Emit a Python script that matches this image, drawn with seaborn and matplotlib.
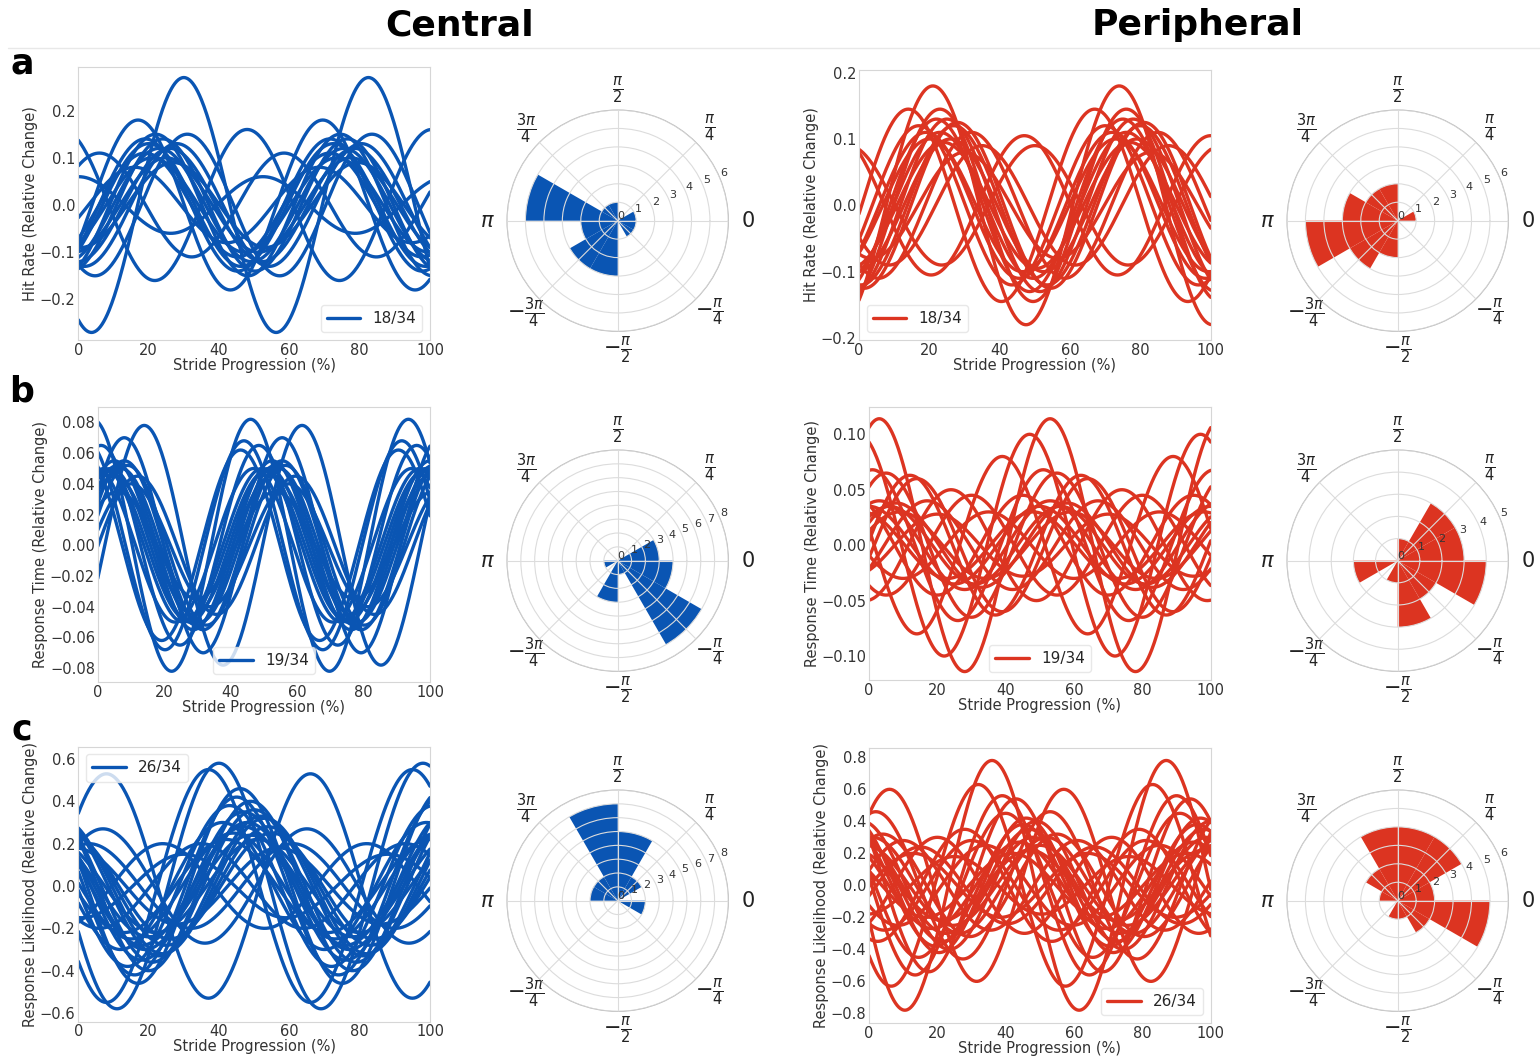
import numpy as np
import pandas as pd
import matplotlib
matplotlib.use("Agg")
import matplotlib.pyplot as plt
from matplotlib.lines import Line2D
import seaborn as sns

# ---------------------------------------------------------------- data
# Each fitted curve: y = amp * cos(2*pi*(x - peak) / period), x in % of stride
HIT_C_AMP = [0.27, 0.18, 0.16, 0.11, 0.15, 0.14, 0.13, 0.12, 0.12, 0.11, 0.10, 0.10, 0.09, 0.15, 0.13, 0.08, 0.06, 0.14]
HIT_C_PEAK = [30, 17, 48, 6, 22, 24, 20, 23, 26, 19, 21, 25, 27, 31, 28, 16, 0, 19]
HIT_C_PERIOD = 52.5

HIT_P_AMP = [0.18, 0.145, 0.145, 0.13, 0.125, 0.12, 0.11, 0.11, 0.10, 0.105, 0.09, 0.09, 0.10, 0.12, 0.08, 0.11, 0.13, 0.095]
HIT_P_PEAK = [21, 14, 23, 25, 28, 27, 19, 23, 20, 47, 35, 50, 26, 17, 30, 32, 22, 24]
HIT_P_PERIOD = 53.0

RT_C_AMP = [0.082, 0.078, 0.070, 0.068, 0.062, 0.065, 0.055, 0.052, 0.050, 0.050, 0.048, 0.052, 0.045, 0.050, 0.055, 0.040, 0.045, 0.035, 0.050]
RT_C_PEAK = [46, 14, 8, 44, 43, 1, 5, 6, 4, 7, 3, 9, 5, 2, 8, 10, 12, 6, 47]
RT_C_PERIOD = 47.5

RT_P_AMP = [0.114, 0.100, 0.080, 0.068, 0.065, 0.063, 0.060, 0.050, 0.045, 0.040, 0.035, 0.035, 0.030, 0.030, 0.040, 0.028, 0.045, 0.030, 0.038]
RT_P_PEAK = [3, 47, 39, 1, 5, 12, 14, 24, 30, 3, 0, 6, 9, 48, 17, 20, 45, 35, 8]
RT_P_PERIOD = 50.0

RL_C_AMP = [0.58, 0.55, 0.53, 0.46, 0.42, 0.38, 0.36, 0.33, 0.30, 0.28, 0.27, 0.25, 0.25, 0.22, 0.20, 0.20, 0.18, 0.30, 0.32, 0.24, 0.15, 0.22, 0.35, 0.28, 0.20, 0.40]
RL_C_PEAK = [40, 37, 8, 46, 45, 43, 50, 52, 48, 47, 7, 55, 44, 51, 24, 3, 57, 41, 53, 49, 30, 42, 47, 54, 35, 49]
RL_C_PERIOD = 58.0

RL_P_AMP = [0.78, 0.63, 0.60, 0.56, 0.54, 0.46, 0.42, 0.40, 0.38, 0.35, 0.32, 0.30, 0.30, 0.28, 0.27, 0.25, 0.24, 0.22, 0.20, 0.20, 0.18, 0.30, 0.35, 0.25, 0.45, 0.28]
RL_P_PEAK = [36, 32, 6, 39, 43, 2, 46, 49, 45, 47, 4, 1, 48, 10, 44, 50, 15, 47, 42, 13, 25, 20, 28, 34, 40, 30]
RL_P_PERIOD = 51.0

# Phase histograms: counts per 30-degree bin, starting at 0 rad, counter-clockwise
HIT_C_HIST = [1, 0, 0, 1, 1, 5, 2, 3, 3, 0, 1, 1]
HIT_P_HIST = [1, 0, 0, 2, 2, 3, 5, 3, 2, 0, 0, 0]
RT_C_HIST = [3, 0, 0, 0, 0, 0, 1, 0, 3, 1, 7, 4]
RT_P_HIST = [3, 3, 1, 0, 0, 0, 2, 0, 1, 3, 2, 4]
RL_C_HIST = [0, 2, 5, 7, 2, 2, 0, 0, 0, 0, 0, 2]
RL_P_HIST = [2, 4, 4, 4, 2, 1, 0, 0, 1, 1, 2, 5]

LEGEND_LABELS = ["18/34", "19/34", "26/34"]
Y_LABELS = ["Hit Rate (Relative Change)", "Response Time (Relative Change)",
            "Response Likelihood (Relative Change)"]
COLUMN_TITLES = ["Central", "Peripheral"]
THETA_LABELS = ["0", r"$\frac{\pi}{4}$", r"$\frac{\pi}{2}$", r"$\frac{3\pi}{4}$",
                r"$\pi$", r"$-\frac{3\pi}{4}$", r"$-\frac{\pi}{2}$", r"$-\frac{\pi}{4}$"]

BLUE = "#0a55b3"
RED = "#dc3421"

# ---------------------------------------------------------------- style
sns.set_theme(style="white")
plt.rcParams["font.family"] = ["DejaVu Sans"]
plt.rcParams["axes.edgecolor"] = "#d6d6d6"
plt.rcParams["xtick.color"] = "#333333"
plt.rcParams["ytick.color"] = "#333333"
plt.rcParams["axes.labelcolor"] = "#333333"

W, H = 1540, 1058
fig = plt.figure(figsize=(W / 100, H / 100), dpi=100)


def rect(x0, y0, x1, y1):
    return [x0 / W, 1 - y1 / H, (x1 - x0) / W, (y1 - y0) / H]


def curves_frame(amps, peaks, period):
    x = np.linspace(0, 100, 401)
    rows = []
    for i, (a, p) in enumerate(zip(amps, peaks)):
        y = a * np.cos(2 * np.pi * (x - p) / period)
        rows.append(pd.DataFrame({"x": x, "y": y, "unit": i}))
    return pd.concat(rows, ignore_index=True)


def line_panel(box, amps, peaks, period, color, ylim, yticks, ylabel, leg_label, leg_loc):
    ax = fig.add_axes(rect(*box))
    df = curves_frame(amps, peaks, period)
    sns.lineplot(data=df, x="x", y="y", units="unit", estimator=None,
                 color=color, linewidth=2.4, ax=ax, legend=False)
    ax.set_xlim(0, 100)
    ax.set_ylim(*ylim)
    ax.set_xticks([0, 20, 40, 60, 80, 100])
    ax.set_yticks(yticks)
    ax.tick_params(labelsize=10.5, length=0, pad=2)
    ax.set_xlabel("Stride Progression (%)", fontsize=10.5, labelpad=0)
    ax.set_ylabel(ylabel, fontsize=10.5, labelpad=1)
    for s in ax.spines.values():
        s.set_linewidth(0.8)
    ax.legend(handles=[Line2D([0], [0], color=color, lw=2.4)], labels=[leg_label],
              loc=leg_loc, fontsize=11, frameon=True, edgecolor="#e3e3e3",
              handlelength=2.2, borderpad=0.4)
    return ax


def polar_panel(center, counts, rmax, color):
    cx, cy = center
    r = 110.7
    ax = fig.add_axes(rect(cx - r, cy - r, cx + r, cy + r), projection="polar")
    n = len(counts)
    theta = np.arange(n) * 2 * np.pi / n
    ax.bar(theta, counts, width=2 * np.pi / n, align="edge", color=color,
           edgecolor="none", zorder=1)
    ax.set_ylim(0, rmax)
    ax.set_yticks(range(0, rmax + 1))
    ax.set_yticklabels([str(v) for v in range(0, rmax + 1)], fontsize=8, color="#333333")
    ax.set_rlabel_position(22.5)
    ax.set_xticks(np.arange(8) * np.pi / 4)
    ax.set_xticklabels(THETA_LABELS, fontsize=15, color="#222222")
    ax.tick_params(axis="x", pad=1)
    ax.grid(True, color="#dcdcdc", linewidth=0.8)
    ax.set_axisbelow(False)
    ax.spines["polar"].set_color("#bbbbbb")
    ax.spines["polar"].set_linewidth(0.8)
    return ax


# ---------------------------------------------------------------- row a
line_panel((78.3, 66.7, 430, 340), HIT_C_AMP, HIT_C_PEAK, HIT_C_PERIOD, BLUE,
           (-0.286, 0.293), [-0.2, -0.1, 0.0, 0.1, 0.2], Y_LABELS[0], LEGEND_LABELS[0], "lower right")
line_panel((859, 70, 1210.7, 340), HIT_P_AMP, HIT_P_PEAK, HIT_P_PERIOD, RED,
           (-0.203, 0.204), [-0.2, -0.1, 0.0, 0.1, 0.2], Y_LABELS[0], LEGEND_LABELS[0], "lower left")
polar_panel((617.7, 220.7), HIT_C_HIST, 6, BLUE)
polar_panel((1397.7, 220.7), HIT_P_HIST, 6, RED)

# ---------------------------------------------------------------- row b
line_panel((97.7, 407, 430, 682), RT_C_AMP, RT_C_PEAK, RT_C_PERIOD, BLUE,
           (-0.089, 0.090), [-0.08, -0.06, -0.04, -0.02, 0.0, 0.02, 0.04, 0.06, 0.08],
           Y_LABELS[1], LEGEND_LABELS[1], "lower center")
line_panel((869, 407, 1210.7, 680), RT_P_AMP, RT_P_PEAK, RT_P_PERIOD, RED,
           (-0.1216, 0.1246), [-0.10, -0.05, 0.0, 0.05, 0.10],
           Y_LABELS[1], LEGEND_LABELS[1], "lower center")
polar_panel((617.7, 560.7), RT_C_HIST, 8, BLUE)
polar_panel((1397.7, 560.7), RT_P_HIST, 5, RED)

# ---------------------------------------------------------------- row c
line_panel((78.3, 746.7, 430, 1021.7), RL_C_AMP, RL_C_PEAK, RL_C_PERIOD, BLUE,
           (-0.641, 0.658), [-0.6, -0.4, -0.2, 0.0, 0.2, 0.4, 0.6],
           Y_LABELS[2], LEGEND_LABELS[2], "upper left")
line_panel((869, 748, 1210.7, 1023), RL_P_AMP, RL_P_PEAK, RL_P_PERIOD, RED,
           (-0.86, 0.858), [-0.8, -0.6, -0.4, -0.2, 0.0, 0.2, 0.4, 0.6, 0.8],
           Y_LABELS[2], LEGEND_LABELS[2], "lower right")
polar_panel((617.7, 900.7), RL_C_HIST, 8, BLUE)
polar_panel((1397.7, 900.7), RL_P_HIST, 6, RED)

# ---------------------------------------------------------------- headings
fig.text(460 / W, 1 - 25 / H, COLUMN_TITLES[0], ha="center", va="center",
         fontsize=26, fontweight="heavy", color="black")
fig.text(1198 / W, 1 - 25 / H, COLUMN_TITLES[1], ha="center", va="center",
         fontsize=26, fontweight="heavy", color="black")
fig.add_artist(Line2D([8 / W, 1.0], [1 - 48 / H, 1 - 48 / H], color="#e8e8e8", lw=1))
for letter, y in zip("abc", [64, 392, 730]):
    fig.text(22 / W, 1 - y / H, letter, ha="center", va="center",
             fontsize=25, fontweight="heavy", color="black")

fig.savefig("out.png", dpi=100, facecolor="white")
